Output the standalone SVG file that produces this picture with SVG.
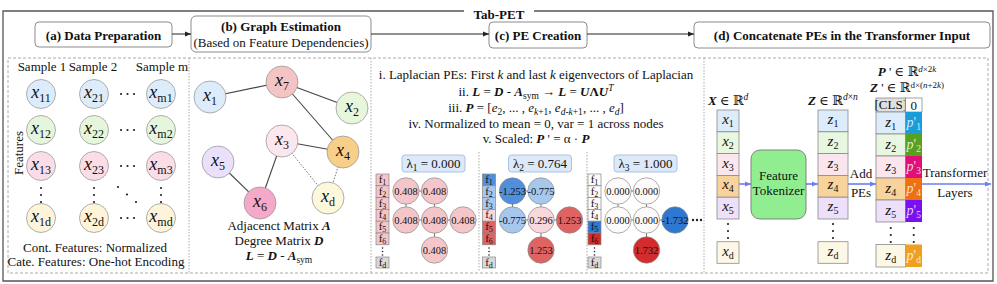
<svg xmlns="http://www.w3.org/2000/svg" width="997" height="284" viewBox="0 0 997 284">
<style>
text{font-family:"Liberation Serif","Times New Roman","DejaVu Serif",serif;fill:#111;font-size:13px}
.b{font-weight:bold}
.i{font-style:italic}
.bi{font-weight:bold;font-style:italic}
.hb{fill:#fff;stroke:#8c8c8c;stroke-width:1}
.dash{fill:none;stroke:#aaa;stroke-width:1;stroke-dasharray:3 2}
.dot{fill:none;stroke:#aaa;stroke-width:1;stroke-dasharray:1.5 1.5}
.ed{stroke:#444;stroke-width:1.1}
.edd{stroke:#777;stroke-width:1;stroke-dasharray:1.5 1.5}
.n{stroke:#9a9a9a;stroke-width:0.8}
.mid{text-anchor:middle}
.nx{font-size:18px;text-anchor:middle}
.ge{stroke:#666;stroke-width:0.9}
.gn{stroke:#8a8a8a;stroke-width:0.7}
.gv{font-size:10.5px;text-anchor:middle}
.fc{stroke:#888;stroke-width:0.7}
.ft{font-size:11px;text-anchor:middle}
.cell{stroke:#8a8a8a;stroke-width:0.8}
.cx{font-size:15px;text-anchor:middle}
.pw{fill:#ffffff;fill-opacity:0.8;font-size:14px;text-anchor:middle}
.blue{stroke:#6a7ff0;stroke-width:1.6}
.blk{stroke:#222;stroke-width:1}
.dd{fill:#222}
</style>
<defs>
<marker id="ah" viewBox="0 0 10 10" refX="10" refY="5" markerWidth="6" markerHeight="6" orient="auto"><path d="M0,1 L10,5 L0,9 z" fill="#222"/></marker>
<marker id="ahb" viewBox="0 0 10 10" refX="10" refY="5" markerWidth="4" markerHeight="4" orient="auto"><path d="M0,1 L10,5 L0,9 z" fill="#6a7ff0"/></marker>
</defs>

<!-- outer frame and panel borders -->
<g id="frame">
<path d="M464,11 H3 V281 H993 V11 H534" fill="none" stroke="#555" stroke-width="1.3"/>
<text x="499" y="19" class="b mid" font-size="15.5">Tab-PET</text>
<rect x="8" y="58" width="980" height="215" class="dash"/>
<line x1="189" y1="58" x2="189" y2="273" class="dot"/>
<line x1="371" y1="58" x2="371" y2="273" class="dot"/>
<line x1="704" y1="58" x2="704" y2="273" class="dot"/>
<line x1="479" y1="152" x2="479" y2="272" class="dot"/>
<line x1="587" y1="152" x2="587" y2="272" class="dot"/>
</g>

<!-- header steps -->
<g id="step-a"><rect x="35" y="22" width="137" height="25" rx="4" class="hb"/><text x="103.5" y="39.5" class="b mid" font-size="14.5">(a) Data Preparation</text></g>
<g id="step-b"><rect x="191" y="16" width="180" height="36" rx="5" class="hb"/><text x="281" y="31" class="b mid" font-size="14.5">(b) Graph Estimation</text><text x="281" y="46.5" class="mid">(Based on Feature Dependencies)</text></g>
<g id="step-c"><rect x="489" y="22" width="98" height="26" rx="4" class="hb"/><text x="538" y="39.5" class="b mid" font-size="14.5">(c) PE Creation</text></g>
<g id="step-d"><rect x="694" y="22" width="296" height="26" rx="4" class="hb"/><text x="842" y="39.5" class="b mid" font-size="14.5">(d) Concatenate PEs in the Transformer Input</text></g>

<g id="connectors">
<line x1="172" y1="34" x2="191" y2="34" class="blk" marker-end="url(#ah)"/>
<line x1="371" y1="34" x2="489" y2="34" class="blk" marker-end="url(#ah)"/>
<line x1="587" y1="34" x2="694" y2="34" class="blk" marker-end="url(#ah)"/>
<!-- panel b edges -->
<line x1="210" y1="97" x2="282" y2="82" class="ed"/>
<line x1="282" y1="82" x2="352" y2="108" class="ed"/>
<line x1="282" y1="82" x2="343" y2="152" class="ed"/>
<line x1="282" y1="141" x2="343" y2="152" class="ed"/>
<line x1="282" y1="141" x2="260" y2="203" class="ed"/>
<line x1="218" y1="162" x2="260" y2="203" class="ed"/>
<line x1="282" y1="141" x2="328" y2="198" class="edd"/>
<line x1="343" y1="152" x2="328" y2="198" class="edd"/>
<!-- panel d arrows -->
<line x1="739" y1="184" x2="751" y2="184" class="blue" marker-end="url(#ahb)"/>
<line x1="806" y1="184" x2="818" y2="184" class="blue" marker-end="url(#ahb)"/>
<line x1="848" y1="184" x2="876" y2="184" class="blue" marker-end="url(#ahb)"/>
<line x1="922" y1="184" x2="991" y2="184" class="blue" marker-end="url(#ahb)"/>
</g>

<!-- panel a -->
<g id="panel-a">
<text x="42" y="71" class="mid" font-size="12">Sample 1</text>
<text x="93" y="71" class="mid" font-size="12">Sample 2</text>
<text x="162" y="71" class="mid" font-size="12">Sample m</text>
<text transform="translate(23,153) rotate(-90)" class="mid">Features</text>
<g id="a-x11"><circle cx="41" cy="94" r="14.5" fill="#dcecfb" class="n"/><text x="41" y="98" class="nx"><tspan class="i">x</tspan><tspan dy="4" font-size="12">11</tspan></text></g>
<g id="a-x21"><circle cx="94" cy="94" r="14.5" fill="#dcecfb" class="n"/><text x="94" y="98" class="nx"><tspan class="i">x</tspan><tspan dy="4" font-size="12">21</tspan></text></g>
<g id="a-xm1"><circle cx="161" cy="94" r="14.5" fill="#dcecfb" class="n"/><text x="161" y="98" class="nx"><tspan class="i">x</tspan><tspan dy="4" font-size="12">m1</tspan></text></g>
<g id="a-x12"><circle cx="41" cy="130" r="14.5" fill="#e6f6dd" class="n"/><text x="41" y="134" class="nx"><tspan class="i">x</tspan><tspan dy="4" font-size="12">12</tspan></text></g>
<g id="a-x22"><circle cx="94" cy="130" r="14.5" fill="#e6f6dd" class="n"/><text x="94" y="134" class="nx"><tspan class="i">x</tspan><tspan dy="4" font-size="12">22</tspan></text></g>
<g id="a-xm2"><circle cx="161" cy="130" r="14.5" fill="#e6f6dd" class="n"/><text x="161" y="134" class="nx"><tspan class="i">x</tspan><tspan dy="4" font-size="12">m2</tspan></text></g>
<g id="a-x13"><circle cx="41" cy="166" r="14.5" fill="#fbdde7" class="n"/><text x="41" y="170" class="nx"><tspan class="i">x</tspan><tspan dy="4" font-size="12">13</tspan></text></g>
<g id="a-x23"><circle cx="94" cy="166" r="14.5" fill="#fbdde7" class="n"/><text x="94" y="170" class="nx"><tspan class="i">x</tspan><tspan dy="4" font-size="12">23</tspan></text></g>
<g id="a-xm3"><circle cx="161" cy="166" r="14.5" fill="#fbdde7" class="n"/><text x="161" y="170" class="nx"><tspan class="i">x</tspan><tspan dy="4" font-size="12">m3</tspan></text></g>
<g id="a-x1d"><circle cx="41" cy="218" r="14.5" fill="#fdf4da" class="n"/><text x="41" y="222" class="nx"><tspan class="i">x</tspan><tspan dy="4" font-size="12">1d</tspan></text></g>
<g id="a-x2d"><circle cx="94" cy="218" r="14.5" fill="#fdf4da" class="n"/><text x="94" y="222" class="nx"><tspan class="i">x</tspan><tspan dy="4" font-size="12">2d</tspan></text></g>
<g id="a-xmd"><circle cx="161" cy="218" r="14.5" fill="#fdf4da" class="n"/><text x="161" y="222" class="nx"><tspan class="i">x</tspan><tspan dy="4" font-size="12">md</tspan></text></g>
<g class="dd">
<circle cx="121" cy="94" r="1.1"/><circle cx="127.5" cy="94" r="1.1"/><circle cx="134" cy="94" r="1.1"/>
<circle cx="121" cy="130" r="1.1"/><circle cx="127.5" cy="130" r="1.1"/><circle cx="134" cy="130" r="1.1"/>
<circle cx="121" cy="166" r="1.1"/><circle cx="127.5" cy="166" r="1.1"/><circle cx="134" cy="166" r="1.1"/>
<circle cx="121" cy="218" r="1.1"/><circle cx="127.5" cy="218" r="1.1"/><circle cx="134" cy="218" r="1.1"/>
<circle cx="41" cy="188" r="1.1"/><circle cx="41" cy="195" r="1.1"/><circle cx="41" cy="202" r="1.1"/>
<circle cx="94" cy="188" r="1.1"/><circle cx="94" cy="195" r="1.1"/><circle cx="94" cy="202" r="1.1"/>
<circle cx="161" cy="188" r="1.1"/><circle cx="161" cy="195" r="1.1"/><circle cx="161" cy="202" r="1.1"/>
<circle cx="118" cy="187" r="1.1"/><circle cx="127" cy="194.5" r="1.1"/><circle cx="136" cy="202" r="1.1"/>
</g>
<text x="95" y="252" class="mid" font-size="12.8">Cont. Features: Normalized</text>
<text x="96" y="266" class="mid" font-size="12.8">Cate. Features: One-hot Encoding</text>
</g>

<!-- panel b -->
<g id="panel-b">
<g id="b-x1"><circle cx="210" cy="97" r="16" fill="#dcecfb" class="n"/><text x="210" y="101" class="nx"><tspan class="i">x</tspan><tspan dy="4" font-size="12">1</tspan></text></g>
<g id="b-x7"><circle cx="282" cy="82" r="16" fill="#f4c4c4" class="n"/><text x="282" y="86" class="nx"><tspan class="i">x</tspan><tspan dy="4" font-size="12">7</tspan></text></g>
<g id="b-x2"><circle cx="352" cy="108" r="16" fill="#e6f7dc" class="n"/><text x="352" y="112" class="nx"><tspan class="i">x</tspan><tspan dy="4" font-size="12">2</tspan></text></g>
<g id="b-x3"><circle cx="282" cy="141" r="16" fill="#fde7ef" class="n"/><text x="282" y="145" class="nx"><tspan class="i">x</tspan><tspan dy="4" font-size="12">3</tspan></text></g>
<g id="b-x4"><circle cx="343" cy="152" r="16" fill="#f7cf88" class="n"/><text x="343" y="156" class="nx"><tspan class="i">x</tspan><tspan dy="4" font-size="12">4</tspan></text></g>
<g id="b-x5"><circle cx="218" cy="162" r="16" fill="#ebe0fa" class="n"/><text x="218" y="166" class="nx"><tspan class="i">x</tspan><tspan dy="4" font-size="12">5</tspan></text></g>
<g id="b-x6"><circle cx="260" cy="203" r="16" fill="#f5a9c8" class="n"/><text x="260" y="207" class="nx"><tspan class="i">x</tspan><tspan dy="4" font-size="12">6</tspan></text></g>
<g id="b-xd"><circle cx="328" cy="198" r="16" fill="#fdf7dc" class="n"/><text x="328" y="202" class="nx"><tspan class="i">x</tspan><tspan dy="4" font-size="12">d</tspan></text></g>
<text x="279" y="230" class="mid">Adjacenct Matrix <tspan class="bi">A</tspan></text>
<text x="279" y="245" class="mid">Degree Matrix <tspan class="bi">D</tspan></text>
<text x="279" y="260" class="mid"><tspan class="bi">L</tspan> = <tspan class="bi">D</tspan> - <tspan class="bi">A</tspan><tspan dy="3" font-size="9.5">sym</tspan></text>
</g>

<!-- panel c -->
<g id="panel-c">
<text x="536" y="79" class="mid">i. Laplacian PEs: First <tspan class="i">k</tspan> and last <tspan class="i">k</tspan> eigenvectors of Laplacian</text>
<text x="536" y="95.5" class="mid">ii. <tspan class="bi">L</tspan> = <tspan class="bi">D</tspan> - <tspan class="bi">A</tspan><tspan dy="3" font-size="9.5">sym</tspan><tspan dy="-3"> → </tspan><tspan class="bi">L</tspan> = <tspan class="bi">U</tspan><tspan class="b">Λ</tspan><tspan class="bi">U</tspan><tspan class="i" dy="-5" font-size="9.5">T</tspan></text>
<text x="536" y="112" class="mid">iii. <tspan class="bi">P</tspan> = [<tspan class="i">e</tspan><tspan dy="3" font-size="9.5">2</tspan><tspan dy="-3">, ... , </tspan><tspan class="i">e</tspan><tspan dy="3" font-size="9.5"><tspan class="i">k</tspan>+1</tspan><tspan dy="-3">, </tspan><tspan class="i">e</tspan><tspan dy="3" font-size="9.5"><tspan class="i">d</tspan>-<tspan class="i">k</tspan>+1</tspan><tspan dy="-3">, ... , </tspan><tspan class="i">e</tspan><tspan dy="3" font-size="9.5" class="i">d</tspan><tspan dy="-3">]</tspan></text>
<text x="536" y="127.5" class="mid">iv. Normalized to mean = 0, var = 1 across nodes</text>
<text x="536" y="143" class="mid">v. Scaled: <tspan class="bi">P</tspan> ' = α · <tspan class="bi">P</tspan></text>

<!-- graph 1 -->
<g id="pe-1">
<rect x="402" y="155" width="63" height="17" rx="3" fill="#dde9f8" stroke="#a9c3e3"/>
<text x="433.5" y="168" class="mid">λ<tspan dy="3" font-size="9.5">1</tspan><tspan dy="-3"> = 0.000</tspan></text>
<g id="pe1-f">
<rect x="376" y="174" width="13" height="11.8" fill="#f4c6ca" class="fc"/><text x="382.5" y="183" class="ft">f<tspan dy="2" font-size="8">1</tspan></text>
<rect x="376" y="185.8" width="13" height="11.8" fill="#f4c6ca" class="fc"/><text x="382.5" y="194.8" class="ft">f<tspan dy="2" font-size="8">2</tspan></text>
<rect x="376" y="197.6" width="13" height="11.8" fill="#f4c6ca" class="fc"/><text x="382.5" y="206.6" class="ft">f<tspan dy="2" font-size="8">3</tspan></text>
<rect x="376" y="209.4" width="13" height="11.8" fill="#f4c6ca" class="fc"/><text x="382.5" y="218.4" class="ft">f<tspan dy="2" font-size="8">4</tspan></text>
<rect x="376" y="221.2" width="13" height="11.8" fill="#f4c6ca" class="fc"/><text x="382.5" y="230.2" class="ft">f<tspan dy="2" font-size="8">5</tspan></text>
<rect x="376" y="233" width="13" height="11.8" fill="#f4c6ca" class="fc"/><text x="382.5" y="242" class="ft">f<tspan dy="2" font-size="8">6</tspan></text>
<circle cx="382.5" cy="248" r="0.8" class="dd"/><circle cx="382.5" cy="251.5" r="0.8" class="dd"/><circle cx="382.5" cy="255" r="0.8" class="dd"/>
<rect x="376" y="257" width="13" height="11" fill="#d9d9d9" class="fc"/><text x="382.5" y="265.5" class="ft">f<tspan dy="2" font-size="8">d</tspan></text>
</g>
<g class="ge"><line x1="406" y1="191" x2="434.5" y2="191"/><line x1="406" y1="191" x2="406" y2="220"/><line x1="434.5" y1="191" x2="434.5" y2="220"/><line x1="406" y1="220" x2="463" y2="220"/><line x1="434.5" y1="220" x2="434.5" y2="250"/></g>
<g id="pe1-n1"><circle cx="406" cy="191" r="13.2" fill="#f4c6ca" class="gn"/><text x="406" y="194.5" class="gv">0.408</text></g>
<g id="pe1-n2"><circle cx="434.5" cy="191" r="13.2" fill="#f4c6ca" class="gn"/><text x="434.5" y="194.5" class="gv">0.408</text></g>
<g id="pe1-n3"><circle cx="406" cy="220" r="13.2" fill="#f4c6ca" class="gn"/><text x="406" y="223.5" class="gv">0.408</text></g>
<g id="pe1-n4"><circle cx="434.5" cy="220" r="13.2" fill="#f4c6ca" class="gn"/><text x="434.5" y="223.5" class="gv">0.408</text></g>
<g id="pe1-n5"><circle cx="463" cy="220" r="13.2" fill="#f4c6ca" class="gn"/><text x="463" y="223.5" class="gv">0.408</text></g>
<g id="pe1-n6"><circle cx="434.5" cy="250" r="13.2" fill="#f4c6ca" class="gn"/><text x="434.5" y="253.5" class="gv">0.408</text></g>
</g>

<!-- graph 2 -->
<g id="pe-2" transform="translate(106.5,0)">
<rect x="402" y="155" width="63" height="17" rx="3" fill="#dde9f8" stroke="#a9c3e3"/>
<text x="433.5" y="168" class="mid">λ<tspan dy="3" font-size="9.5">2</tspan><tspan dy="-3"> = 0.764</tspan></text>
<g id="pe2-f">
<rect x="376" y="174" width="13" height="11.8" fill="#4f8fdc" class="fc"/><text x="382.5" y="183" class="ft">f<tspan dy="2" font-size="8">1</tspan></text>
<rect x="376" y="185.8" width="13" height="11.8" fill="#a6c8ef" class="fc"/><text x="382.5" y="194.8" class="ft">f<tspan dy="2" font-size="8">2</tspan></text>
<rect x="376" y="197.6" width="13" height="11.8" fill="#a6c8ef" class="fc"/><text x="382.5" y="206.6" class="ft">f<tspan dy="2" font-size="8">3</tspan></text>
<rect x="376" y="209.4" width="13" height="11.8" fill="#f8d8dc" class="fc"/><text x="382.5" y="218.4" class="ft">f<tspan dy="2" font-size="8">4</tspan></text>
<rect x="376" y="221.2" width="13" height="11.8" fill="#e06363" class="fc"/><text x="382.5" y="230.2" class="ft">f<tspan dy="2" font-size="8">5</tspan></text>
<rect x="376" y="233" width="13" height="11.8" fill="#e06363" class="fc"/><text x="382.5" y="242" class="ft">f<tspan dy="2" font-size="8">6</tspan></text>
<circle cx="382.5" cy="248" r="0.8" class="dd"/><circle cx="382.5" cy="251.5" r="0.8" class="dd"/><circle cx="382.5" cy="255" r="0.8" class="dd"/>
<rect x="376" y="257" width="13" height="11" fill="#d9d9d9" class="fc"/><text x="382.5" y="265.5" class="ft">f<tspan dy="2" font-size="8">d</tspan></text>
</g>
<g class="ge"><line x1="406" y1="191" x2="434.5" y2="191"/><line x1="406" y1="191" x2="406" y2="220"/><line x1="434.5" y1="191" x2="434.5" y2="220"/><line x1="406" y1="220" x2="463" y2="220"/><line x1="434.5" y1="220" x2="434.5" y2="250"/></g>
<g id="pe2-n1"><circle cx="406" cy="191" r="13.2" fill="#4f8fdc" class="gn"/><text x="406" y="194.5" class="gv">-1.253</text></g>
<g id="pe2-n2"><circle cx="434.5" cy="191" r="13.2" fill="#a6c8ef" class="gn"/><text x="434.5" y="194.5" class="gv">-0.775</text></g>
<g id="pe2-n3"><circle cx="406" cy="220" r="13.2" fill="#a6c8ef" class="gn"/><text x="406" y="223.5" class="gv">-0.775</text></g>
<g id="pe2-n4"><circle cx="434.5" cy="220" r="13.2" fill="#f8d8dc" class="gn"/><text x="434.5" y="223.5" class="gv">0.296</text></g>
<g id="pe2-n5"><circle cx="463" cy="220" r="13.2" fill="#e06363" class="gn"/><text x="463" y="223.5" class="gv">1.253</text></g>
<g id="pe2-n6"><circle cx="434.5" cy="250" r="13.2" fill="#e06363" class="gn"/><text x="434.5" y="253.5" class="gv">1.253</text></g>
</g>

<!-- graph 3 -->
<g id="pe-3" transform="translate(212,0)">
<rect x="402" y="155" width="63" height="17" rx="3" fill="#dde9f8" stroke="#a9c3e3"/>
<text x="433.5" y="168" class="mid">λ<tspan dy="3" font-size="9.5">3</tspan><tspan dy="-3"> = 1.000</tspan></text>
<g id="pe3-f">
<rect x="376" y="174" width="13" height="11.8" fill="#fdfafa" class="fc"/><text x="382.5" y="183" class="ft">f<tspan dy="2" font-size="8">1</tspan></text>
<rect x="376" y="185.8" width="13" height="11.8" fill="#fdfafa" class="fc"/><text x="382.5" y="194.8" class="ft">f<tspan dy="2" font-size="8">2</tspan></text>
<rect x="376" y="197.6" width="13" height="11.8" fill="#fdfafa" class="fc"/><text x="382.5" y="206.6" class="ft">f<tspan dy="2" font-size="8">3</tspan></text>
<rect x="376" y="209.4" width="13" height="11.8" fill="#fdfafa" class="fc"/><text x="382.5" y="218.4" class="ft">f<tspan dy="2" font-size="8">4</tspan></text>
<rect x="376" y="221.2" width="13" height="11.8" fill="#2e78d2" class="fc"/><text x="382.5" y="230.2" class="ft">f<tspan dy="2" font-size="8">5</tspan></text>
<rect x="376" y="233" width="13" height="11.8" fill="#d42c2c" class="fc"/><text x="382.5" y="242" class="ft">f<tspan dy="2" font-size="8">6</tspan></text>
<circle cx="382.5" cy="248" r="0.8" class="dd"/><circle cx="382.5" cy="251.5" r="0.8" class="dd"/><circle cx="382.5" cy="255" r="0.8" class="dd"/>
<rect x="376" y="257" width="13" height="11" fill="#d9d9d9" class="fc"/><text x="382.5" y="265.5" class="ft">f<tspan dy="2" font-size="8">d</tspan></text>
</g>
<g class="ge"><line x1="406" y1="191" x2="434.5" y2="191"/><line x1="406" y1="191" x2="406" y2="220"/><line x1="434.5" y1="191" x2="434.5" y2="220"/><line x1="406" y1="220" x2="463" y2="220"/><line x1="434.5" y1="220" x2="434.5" y2="250"/></g>
<g id="pe3-n1"><circle cx="406" cy="191" r="13.2" fill="#fdfafa" class="gn"/><text x="406" y="194.5" class="gv">0.000</text></g>
<g id="pe3-n2"><circle cx="434.5" cy="191" r="13.2" fill="#fdfafa" class="gn"/><text x="434.5" y="194.5" class="gv">0.000</text></g>
<g id="pe3-n3"><circle cx="406" cy="220" r="13.2" fill="#fdfafa" class="gn"/><text x="406" y="223.5" class="gv">0.000</text></g>
<g id="pe3-n4"><circle cx="434.5" cy="220" r="13.2" fill="#fdfafa" class="gn"/><text x="434.5" y="223.5" class="gv">0.000</text></g>
<g id="pe3-n5"><circle cx="463" cy="220" r="13.2" fill="#2e78d2" class="gn"/><text x="463" y="223.5" class="gv">-1.732</text></g>
<g id="pe3-n6"><circle cx="434.5" cy="250" r="13.2" fill="#d42c2c" class="gn"/><text x="434.5" y="253.5" class="gv">1.732</text></g>
<circle cx="481" cy="220" r="1.2" class="dd"/><circle cx="485" cy="220" r="1.2" class="dd"/><circle cx="489" cy="220" r="1.2" class="dd"/>
</g>
</g>

<!-- panel d -->
<g id="panel-d">
<text x="708" y="105"><tspan class="bi">X</tspan> ∈ ℝ<tspan dy="-5" font-size="9.5" class="i">d</tspan></text>
<g id="x-column">
<rect x="717" y="110" width="22" height="21.8" fill="#dcecfb" class="cell"/><text x="728" y="124" class="cx"><tspan class="i">x</tspan><tspan dy="3" font-size="10">1</tspan></text>
<rect x="717" y="131.8" width="22" height="21.8" fill="#e8f7e0" class="cell"/><text x="728" y="145.8" class="cx"><tspan class="i">x</tspan><tspan dy="3" font-size="10">2</tspan></text>
<rect x="717" y="153.6" width="22" height="21.8" fill="#fce6ee" class="cell"/><text x="728" y="167.6" class="cx"><tspan class="i">x</tspan><tspan dy="3" font-size="10">3</tspan></text>
<rect x="717" y="175.4" width="22" height="21.8" fill="#f8d49c" class="cell"/><text x="728" y="189.4" class="cx"><tspan class="i">x</tspan><tspan dy="3" font-size="10">4</tspan></text>
<rect x="717" y="197.2" width="22" height="21.8" fill="#ece0fa" class="cell"/><text x="728" y="211.2" class="cx"><tspan class="i">x</tspan><tspan dy="3" font-size="10">5</tspan></text>
<circle cx="728" cy="224" r="1.1" class="dd"/><circle cx="728" cy="231" r="1.1" class="dd"/><circle cx="728" cy="238" r="1.1" class="dd"/>
<rect x="717" y="241.7" width="22" height="21.6" fill="#fdf8e6" class="cell"/><text x="728" y="255.7" class="cx"><tspan class="i">x</tspan><tspan dy="3" font-size="10">d</tspan></text>
</g>
<g id="feature-tokenizer">
<rect x="751" y="150" width="55" height="69" rx="9" fill="#90ee90" stroke="#777" stroke-width="0.9"/>
<text x="778.5" y="180" class="mid" font-size="12.5">Feature</text>
<text x="778.5" y="194.5" class="mid" font-size="12.5">Tokenizer</text>
</g>
<text x="808" y="105"><tspan class="bi">Z</tspan> ∈ ℝ<tspan dy="-5" font-size="9.5"><tspan class="i">d</tspan>×<tspan class="i">n</tspan></tspan></text>
<g id="z-column">
<rect x="818" y="110" width="30" height="21.8" fill="#dcecfb" class="cell"/><text x="833" y="124" class="cx"><tspan class="i">z</tspan><tspan dy="3" font-size="10">1</tspan></text>
<rect x="818" y="131.8" width="30" height="21.8" fill="#e8f7e0" class="cell"/><text x="833" y="145.8" class="cx"><tspan class="i">z</tspan><tspan dy="3" font-size="10">2</tspan></text>
<rect x="818" y="153.6" width="30" height="21.8" fill="#fce6ee" class="cell"/><text x="833" y="167.6" class="cx"><tspan class="i">z</tspan><tspan dy="3" font-size="10">3</tspan></text>
<rect x="818" y="175.4" width="30" height="21.8" fill="#f8d49c" class="cell"/><text x="833" y="189.4" class="cx"><tspan class="i">z</tspan><tspan dy="3" font-size="10">4</tspan></text>
<rect x="818" y="197.2" width="30" height="21.8" fill="#ece0fa" class="cell"/><text x="833" y="211.2" class="cx"><tspan class="i">z</tspan><tspan dy="3" font-size="10">5</tspan></text>
<circle cx="833" cy="224" r="1.1" class="dd"/><circle cx="833" cy="231" r="1.1" class="dd"/><circle cx="833" cy="238" r="1.1" class="dd"/>
<rect x="818" y="241.7" width="30" height="21.6" fill="#fdf8e6" class="cell"/><text x="833" y="255.7" class="cx"><tspan class="i">z</tspan><tspan dy="3" font-size="10">d</tspan></text>
</g>
<text x="861" y="178" class="mid">Add</text>
<text x="861" y="197" class="mid">PEs</text>
<text x="907" y="76" class="mid"><tspan class="bi">P</tspan> ' ∈ ℝ<tspan dy="-4.5" font-size="9"><tspan class="i">d</tspan>×2<tspan class="i">k</tspan></tspan></text>
<text x="907" y="92" class="mid"><tspan class="bi">Z</tspan> ' ∈ ℝ<tspan dy="-4" font-size="9">d×(<tspan class="i">n</tspan>+2<tspan class="i">k</tspan>)</tspan></text>
<g id="zprime-column">
<rect x="876" y="98" width="29.5" height="14" fill="#e0e0e0" class="cell"/><text x="890.75" y="109" class="mid" font-size="11">[CLS]</text>
<rect x="905.5" y="98" width="16.5" height="14" fill="#fff" class="cell"/><text x="913.75" y="109.5" class="mid" font-size="12">0</text>
<rect x="876" y="112" width="29.5" height="22" fill="#dcecfb" class="cell"/><text x="890.75" y="126.5" class="cx"><tspan class="i">z</tspan><tspan dy="3" font-size="10">1</tspan></text>
<rect x="876" y="134" width="29.5" height="22" fill="#e8f7e0" class="cell"/><text x="890.75" y="148.5" class="cx"><tspan class="i">z</tspan><tspan dy="3" font-size="10">2</tspan></text>
<rect x="876" y="156" width="29.5" height="22" fill="#fce6ee" class="cell"/><text x="890.75" y="170.5" class="cx"><tspan class="i">z</tspan><tspan dy="3" font-size="10">3</tspan></text>
<rect x="876" y="178" width="29.5" height="22" fill="#f8d49c" class="cell"/><text x="890.75" y="192.5" class="cx"><tspan class="i">z</tspan><tspan dy="3" font-size="10">4</tspan></text>
<rect x="876" y="200" width="29.5" height="22" fill="#ece0fa" class="cell"/><text x="890.75" y="214.5" class="cx"><tspan class="i">z</tspan><tspan dy="3" font-size="10">5</tspan></text>
<rect x="876" y="244.5" width="29.5" height="22.5" fill="#fdf8e6" class="cell"/><text x="890.75" y="259.5" class="cx"><tspan class="i">z</tspan><tspan dy="3" font-size="10">d</tspan></text>
<rect x="905.5" y="112" width="16.5" height="22" fill="#1a9cd8"/><text x="913.75" y="126.5" class="pw"><tspan class="i">p</tspan>'<tspan dy="3" font-size="9.5">1</tspan></text>
<rect x="905.5" y="134" width="16.5" height="22" fill="#5aa020"/><text x="913.75" y="148.5" class="pw"><tspan class="i">p</tspan>'<tspan dy="3" font-size="9.5">2</tspan></text>
<rect x="905.5" y="156" width="16.5" height="22" fill="#e0107a"/><text x="913.75" y="170.5" class="pw"><tspan class="i">p</tspan>'<tspan dy="3" font-size="9.5">3</tspan></text>
<rect x="905.5" y="178" width="16.5" height="22" fill="#f07010"/><text x="913.75" y="192.5" class="pw"><tspan class="i">p</tspan>'<tspan dy="3" font-size="9.5">4</tspan></text>
<rect x="905.5" y="200" width="16.5" height="22" fill="#7a10f0"/><text x="913.75" y="214.5" class="pw"><tspan class="i">p</tspan>'<tspan dy="3" font-size="9.5">5</tspan></text>
<rect x="905.5" y="244.5" width="16.5" height="22.5" fill="#f0a020"/><text x="913.75" y="259.5" class="pw"><tspan class="i">p</tspan>'<tspan dy="3" font-size="9.5">d</tspan></text>
<circle cx="890.75" cy="228" r="1.1" class="dd"/><circle cx="890.75" cy="235" r="1.1" class="dd"/><circle cx="890.75" cy="242" r="1.1" class="dd"/>
<circle cx="913.75" cy="228" r="1.1" class="dd"/><circle cx="913.75" cy="235" r="1.1" class="dd"/><circle cx="913.75" cy="242" r="1.1" class="dd"/>
</g>
<text x="955" y="177" class="mid">Transformer</text>
<text x="955" y="197" class="mid">Layers</text>
</g>
</svg>
